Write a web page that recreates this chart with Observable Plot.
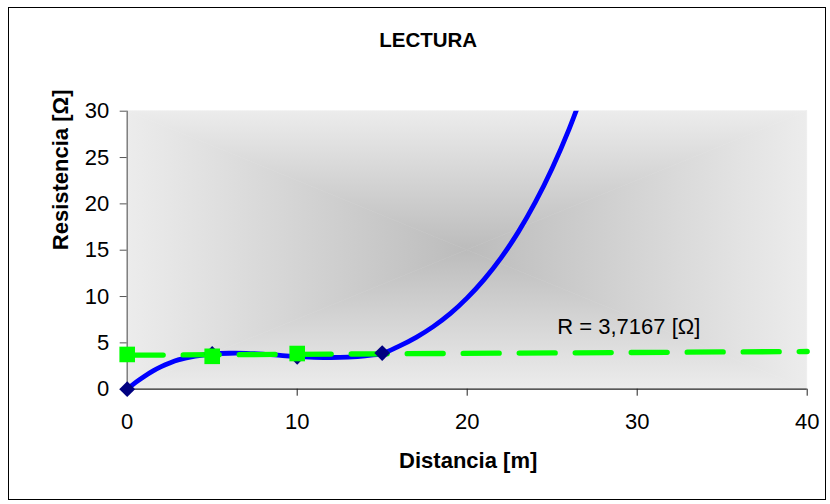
<!DOCTYPE html>
<html>
<head>
<meta charset="utf-8">
<script src="https://cdn.jsdelivr.net/npm/d3@7"></script>
<script src="https://cdn.jsdelivr.net/npm/@observablehq/plot@0.6"></script>
<style>
  body { margin: 0; background: #fff; }
  #wrap { position: relative; width: 830px; height: 504px; overflow: hidden; font-family: "Liberation Sans", Arial, sans-serif; }
  #border { position: absolute; left: 8px; top: 7px; width: 818px; height: 493px; border: 1px solid #000; box-sizing: border-box; pointer-events: none; }
  #chart { position: absolute; left: 0; top: 0; }
</style>
</head>
<body>
<div id="wrap"><div id="chart"></div><div id="border"></div></div>
<script>
// ---- data ----
const titulo = "LECTURA";
const etiquetaX = "Distancia [m]";
const etiquetaY = "Resistencia [Ω]";
const etiquetaR = "R = 3,7167 [Ω]";

// measured readings (navy diamonds)
const distancia = [0, 5, 10, 15];
const lectura = [0, 3.8, 3.5, 3.9];

// resistance points (green squares)
const distanciaR = [0, 5, 10];
const resistencia = [3.75, 3.55, 3.85];

// polynomial trend curve
const tendX = [0, 0.5, 1, 1.5, 2, 2.5, 3, 4, 5, 6, 7, 8, 9, 10, 11, 12, 13, 14, 15, 16, 17, 18, 19, 20, 21, 22, 23, 24, 25, 26, 27];
const tendY = [0, 0.74, 1.38, 1.95, 2.43, 2.83, 3.16, 3.58, 3.8, 3.88, 3.87, 3.78, 3.65, 3.52, 3.45, 3.42, 3.47, 3.6, 3.85, 4.65, 5.6, 6.75, 8.15, 9.85, 11.85, 14.2, 16.95, 20.15, 23.85, 28.1, 33.0];

const xTicks = [0, 10, 20, 30, 40];
const yTicks = [0, 5, 10, 15, 20, 25, 30];

// ---- derived tables ----
const lecturas = distancia.map((d, i) => ({x: d, y: lectura[i]}));
const resist = distanciaR.map((d, i) => ({x: d, y: resistencia[i]}));
const tendencia = tendX.map((d, i) => ({x: d, y: tendY[i]}));

// linear trend of the resistance points, extended over the x domain
const mx = d3.mean(distanciaR), my = d3.mean(resistencia);
const slope = d3.sum(distanciaR, (d, i) => (d - mx) * (resistencia[i] - my)) / d3.sum(distanciaR, d => (d - mx) ** 2);
const icpt = my - slope * mx;
const xDom = [xTicks[0], xTicks[xTicks.length - 1]];
const lineaR = xDom.map(x => ({x, y: icpt + slope * x}));

const diamond = {draw(ctx, size) { const r = Math.sqrt(size / 2); ctx.moveTo(0, -r); ctx.lineTo(r, 0); ctx.lineTo(0, r); ctx.lineTo(-r, 0); ctx.closePath(); }};
const square = {draw(ctx, size) { const h = Math.sqrt(size) / 2; ctx.rect(-h, -h, 2 * h, 2 * h); }};

const font = "Liberation Sans, Arial, sans-serif";

const chart = Plot.plot({
  width: 830,
  height: 504,
  marginLeft: 126.7,
  marginRight: 23.3,
  marginTop: 110.7,
  marginBottom: 115.3,
  style: {fontFamily: font, fontSize: "22px", color: "#000", background: "transparent"},
  x: {domain: xDom, axis: null},
  y: {domain: [yTicks[0], yTicks[yTicks.length - 1]], axis: null},
  marks: [
    Plot.axisX(xTicks, {tickSize: 7, tickPadding: 17, fontSize: 22, stroke: "#222", fill: "#000", label: null}),
    Plot.axisY(yTicks, {tickSize: 7, tickPadding: 11, fontSize: 22, stroke: "#555", fill: "#000", label: null}),
    Plot.ruleY([0], {stroke: "#222", strokeWidth: 1.2}),
    Plot.ruleX([0], {stroke: "#666", strokeWidth: 1.2}),
    Plot.line(tendencia, {x: "x", y: "y", stroke: "#0000ff", strokeWidth: 4.8, curve: "catmull-rom", clip: true}),
    Plot.line(lineaR, {x: "x", y: "y", stroke: "#00ff00", strokeWidth: 5.3, strokeDasharray: "36,20"}),
    Plot.dot(lecturas, {x: "x", y: "y", symbol: diamond, r: 6.3, fill: "#000080", stroke: "none"}),
    Plot.dot(resist, {x: "x", y: "y", symbol: square, r: 8.8, fill: "#00ff00", stroke: "none"}),
    Plot.text([etiquetaR], {x: 25.3, y: 6.75, text: d => d, textAnchor: "start", fontSize: 22, fill: "#000"}),
    Plot.text([titulo], {frameAnchor: "top", dx: -39, dy: -79, text: d => d, fontSize: 20.5, fontWeight: "bold", fill: "#000"}),
    Plot.text([etiquetaX], {frameAnchor: "bottom", dx: 1, dy: 79, text: d => d, fontSize: 22, fontWeight: "bold", fill: "#000"}),
    Plot.text([etiquetaY], {frameAnchor: "left", dx: -66, rotate: -90, text: d => d, fontSize: 22, fontWeight: "bold", fill: "#000"})
  ]
});

// rectangular "from centre" gradient background of the plot area, built from the scales
const xs = chart.scale("x"), ys = chart.scale("y");
const x0 = xs.apply(xDom[0]), x1 = xs.apply(xDom[1]);
const y0 = ys.apply(yTicks[yTicks.length - 1]), y1 = ys.apply(yTicks[0]);
const cx = (x0 + x1) / 2, cy = (y0 + y1) / 2;
const svg = d3.select(chart);
const defs = svg.insert("defs", ":first-child");
const edge = "#ececec", centre = "#bcbcbc";
const tris = [
  {id: "gT", pts: [[x0, y0], [x1, y0], [cx, cy]], g: [cx, y0, cx, cy]},
  {id: "gB", pts: [[x0, y1], [x1, y1], [cx, cy]], g: [cx, y1, cx, cy]},
  {id: "gL", pts: [[x0, y0], [x0, y1], [cx, cy]], g: [x0, cy, cx, cy]},
  {id: "gR", pts: [[x1, y0], [x1, y1], [cx, cy]], g: [x1, cy, cx, cy]}
];
const bg = svg.insert("g", "defs + *");
for (const t of tris) {
  const lg = defs.append("linearGradient").attr("id", t.id).attr("gradientUnits", "userSpaceOnUse")
    .attr("x1", t.g[0]).attr("y1", t.g[1]).attr("x2", t.g[2]).attr("y2", t.g[3]);
  lg.append("stop").attr("offset", 0).attr("stop-color", edge);
  lg.append("stop").attr("offset", 1).attr("stop-color", centre);
  bg.append("polygon").attr("points", t.pts.map(p => p.join(",")).join(" "))
    .attr("fill", `url(#${t.id})`).attr("stroke", `url(#${t.id})`).attr("stroke-width", 0.6);
}
document.getElementById("chart").appendChild(chart);
</script>
</body>
</html>
